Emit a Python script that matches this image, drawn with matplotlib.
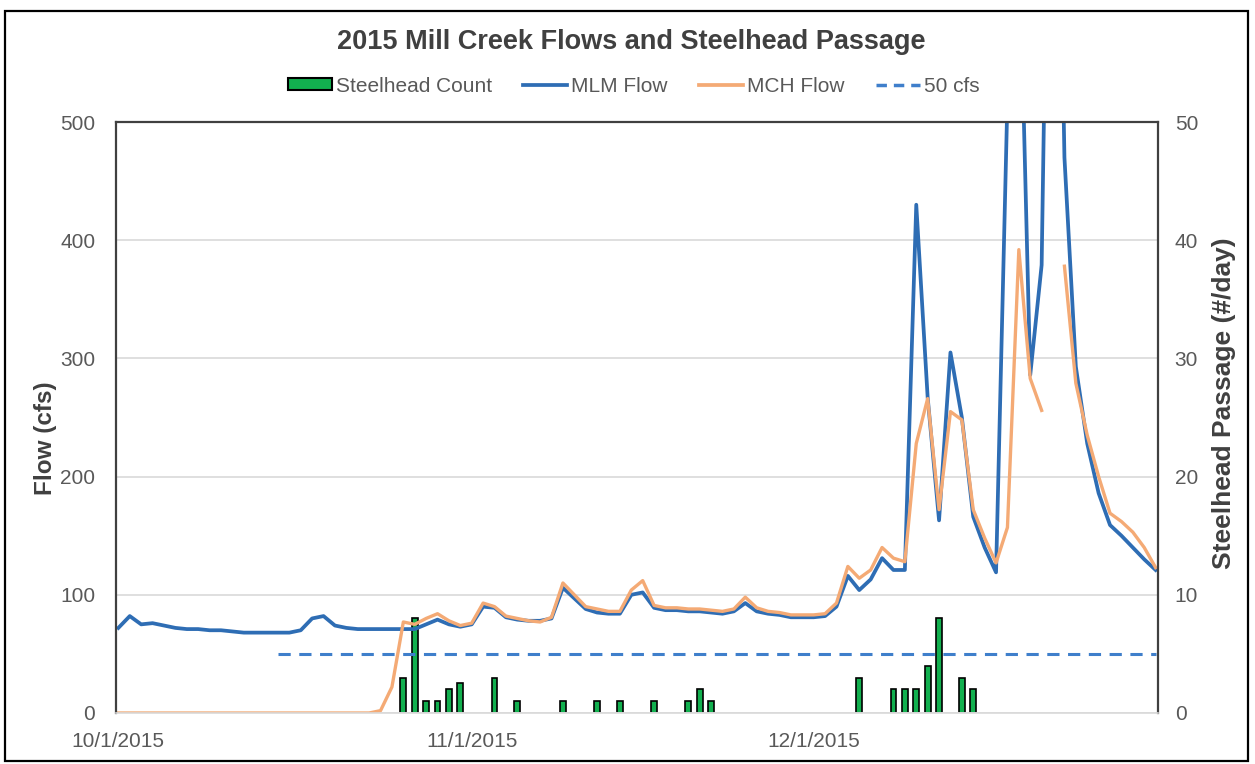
import matplotlib
matplotlib.use('Agg')
import matplotlib.pyplot as plt
import matplotlib.patches as mpatches
from matplotlib.lines import Line2D
import numpy as np
import pandas as pd

plt.rcParams['font.family'] = ['Liberation Sans', 'DejaVu Sans']

# daily values, 10/1/2015 - 12/31/2015
dates = pd.date_range('2015-10-01', '2015-12-31', freq='D')

mlm_flow = [72, 82, 75, 76, 74, 72, 71, 71, 70, 70,
            69, 68, 68, 68, 68, 68, 70, 80, 82, 74,
            72, 71, 71, 71, 71, 71, 71, 75, 79, 75,
            73, 75, 90, 89, 81, 79, 78, 78, 80, 106,
            97, 88, 85, 84, 84, 100, 102, 89, 87, 87,
            86, 86, 85, 84, 86, 93, 86, 84, 83, 81,
            81, 81, 82, 90, 116, 104, 113, 131, 121, 121,
            430, 267, 163, 305, 250, 166, 140, 119, 520, 670,
            286, 379, 1000, 470, 293, 228, 186, 159, 150, 140,
            130, 121]

mch_flow = [0] * 23 + [2, 22, 77, 75, 80, 84, 78,
            74, 76, 93, 90, 82, 80, 78, 77, 81, 110,
            100, 90, 88, 86, 86, 104, 112, 91, 89, 89,
            88, 88, 87, 86, 88, 98, 89, 86, 85, 83,
            83, 83, 84, 93, 124, 114, 121, 140, 131, 128,
            228, 266, 172, 255, 248, 172, 148, 127, 157, 392,
            283, 256, np.nan, 378, 279, 235, 200, 169, 162, 153,
            140, 123]

steelhead = [0] * 92
for d, n in [(25, 3), (26, 8), (27, 1), (28, 1), (29, 2), (30, 2.5), (33, 3),
             (35, 1), (39, 1), (42, 1), (44, 1), (47, 1), (50, 1), (51, 2),
             (52, 1), (65, 3), (68, 2), (69, 2), (70, 2), (71, 4), (72, 8),
             (74, 3), (75, 2)]:
    steelhead[d] = n

threshold = 50
threshold_start = '2015-10-15'

tick_dates = ['2015-10-01', '2015-11-01', '2015-12-01']
tick_labels = ['10/1/2015', '11/1/2015', '12/1/2015']

c_mlm = '#2E6DB4'
c_mch = '#F4AA75'
c_dash = '#3F7FCB'
c_bar = '#12B04F'
c_text = '#595959'
c_grid = '#D9D9D9'

fig = plt.figure(figsize=(12.55, 7.64), dpi=100)
ax = fig.add_axes([116 / 1255, 1 - 713 / 764, (1158 - 116) / 1255, (713 - 122) / 764])
ax2 = ax.twinx()

# bars on secondary axis, drawn beneath the flow lines
sh = np.array(steelhead, dtype=float)
mask = sh > 0
ax2.bar(dates[mask], sh[mask], width=0.5, color=c_bar, edgecolor='black', linewidth=1.2)
ax2.set_ylim(0, 50)
ax2.set_yticks(range(0, 51, 10))

ax.set_zorder(ax2.get_zorder() + 1)
ax.patch.set_visible(False)

ax.plot(dates, mlm_flow, color=c_mlm, lw=2.7)
ax.plot(dates, mch_flow, color=c_mch, lw=2.4)
thr_dates = dates[dates >= threshold_start]
ax.plot(thr_dates, [threshold] * len(thr_dates), color=c_dash, lw=2.2, dashes=(4, 2.8))

ax.set_ylim(0, 500)
ax.set_yticks(range(0, 501, 100))
ax.set_xlim(dates[0] - pd.Timedelta(hours=5), dates[-1] + pd.Timedelta(hours=5))
ax.set_xticks(pd.to_datetime(tick_dates))
ax.set_xticklabels(tick_labels)

ax.grid(axis='y', color=c_grid, lw=1.2)
ax.set_axisbelow(True)

for a in (ax, ax2):
    a.tick_params(length=0, labelsize=15, labelcolor=c_text)
    for s in a.spines.values():
        s.set_visible(False)
for side in ('left', 'top', 'right'):
    ax.spines[side].set_visible(True)
    ax.spines[side].set_color('#404040')
    ax.spines[side].set_linewidth(1.6)
ax.spines['bottom'].set_visible(True)
ax.spines['bottom'].set_color(c_grid)
ax.spines['bottom'].set_linewidth(1.2)
ax.tick_params(axis='y', pad=15)
ax.tick_params(axis='x', pad=14)
ax2.tick_params(axis='y', pad=12)

ax.set_ylabel('Flow (cfs)', fontsize=17.5, fontweight='bold', color='#404040')
ax.yaxis.set_label_coords(-0.057, 0.465)
ax2.set_ylabel('Steelhead Passage (#/day)', fontsize=19, fontweight='bold', color='#404040')
ax2.yaxis.set_label_coords(1.052, 0.524)

fig.text(0.503, 1 - 42 / 764, '2015 Mill Creek Flows and Steelhead Passage',
         ha='center', va='center', fontsize=19.5, fontweight='bold', color='#404040')

handles = [mpatches.Patch(facecolor=c_bar, edgecolor='black', linewidth=1.5),
           Line2D([], [], color=c_mlm, lw=2.7),
           Line2D([], [], color=c_mch, lw=2.7),
           Line2D([], [], color=c_dash, lw=2.5, dashes=(3, 2))]
fig.legend(handles, ['Steelhead Count', 'MLM Flow', 'MCH Flow', '50 cfs'],
           loc='center', bbox_to_anchor=(0.505, 1 - 86 / 764), ncol=4, frameon=False,
           fontsize=15, labelcolor=c_text, handlelength=2.1, handleheight=0.5,
           handletextpad=0.2, columnspacing=1.5)

fig.patches.append(mpatches.Rectangle((5 / 1255, 3 / 764), 1243 / 1255, 750 / 764,
                                      transform=fig.transFigure, fill=False,
                                      edgecolor='black', lw=1.6))

fig.savefig('out.png', dpi=100)
